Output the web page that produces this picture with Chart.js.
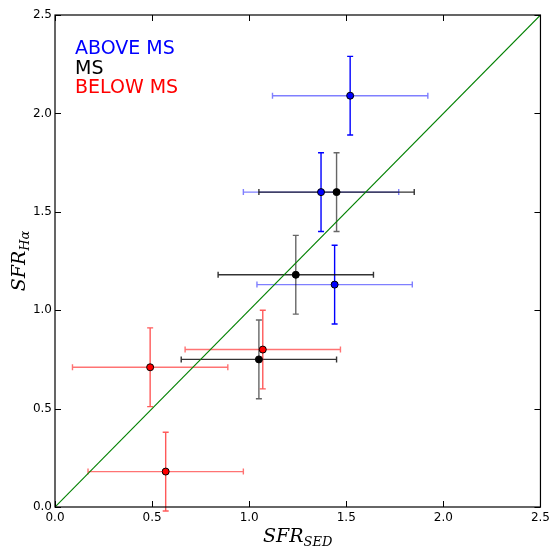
<!DOCTYPE html>
<html>
<head>
<meta charset="utf-8">
<script src="https://cdn.jsdelivr.net/npm/chart.js@4.4.0/dist/chart.umd.min.js"></script>
<style>
  html, body { margin: 0; padding: 0; background: #fff; }
  #wrap { width: 554px; height: 553px; }
</style>
</head>
<body>
<div id="wrap"><canvas id="c" width="554" height="553"></canvas></div>
<script>
// SFR from SED fitting vs SFR from H-alpha, split by position relative to the main sequence
const aboveX = [1.52, 1.37, 1.44];
const aboveY = [2.09, 1.60, 1.13];
const msX = [1.45, 1.24, 1.05];
const msY = [1.60, 1.18, 0.75];
const belowX = [1.07, 0.49, 0.57];
const belowY = [0.80, 0.71, 0.18];
const xErr = 0.4;
const yErr = 0.2;
const tickValues = [0.0, 0.5, 1.0, 1.5, 2.0, 2.5];
const oneToOne = [0.0, 2.5];

function pts(xs, ys) { return xs.map((x, i) => ({ x: x, y: ys[i] })); }

const groups = [
  { label: 'ABOVE MS', data: pts(aboveX, aboveY), color: '0,0,255', xa: 0.5, ya: 1.0 },
  { label: 'MS', data: pts(msX, msY), color: '0,0,0', xa: 0.8, ya: 0.6 },
  { label: 'BELOW MS', data: pts(belowX, belowY), color: '255,0,0', xa: 0.55, ya: 0.65 }
];

// error bars with caps, drawn beneath the markers
const errorBars = {
  id: 'errorBars',
  beforeDatasetsDraw(chart) {
    const ctx = chart.ctx, xs = chart.scales.x, ys = chart.scales.y;
    ctx.save();
    ctx.lineWidth = 1.4;
    const cap = 3;
    groups.forEach(g => {
      g.data.forEach(p => {
        const cx = xs.getPixelForValue(p.x), cy = ys.getPixelForValue(p.y);
        const x0 = xs.getPixelForValue(p.x - xErr), x1 = xs.getPixelForValue(p.x + xErr);
        const y0 = ys.getPixelForValue(p.y - yErr), y1 = ys.getPixelForValue(p.y + yErr);
        ctx.strokeStyle = 'rgba(' + g.color + ',' + g.xa + ')';
        ctx.beginPath();
        ctx.moveTo(x0, cy); ctx.lineTo(x1, cy);
        ctx.moveTo(x0, cy - cap); ctx.lineTo(x0, cy + cap);
        ctx.moveTo(x1, cy - cap); ctx.lineTo(x1, cy + cap);
        ctx.stroke();
        ctx.strokeStyle = 'rgba(' + g.color + ',' + g.ya + ')';
        ctx.beginPath();
        ctx.moveTo(cx, y0); ctx.lineTo(cx, y1);
        ctx.moveTo(cx - cap, y0); ctx.lineTo(cx + cap, y0);
        ctx.moveTo(cx - cap, y1); ctx.lineTo(cx + cap, y1);
        ctx.stroke();
      });
    });
    ctx.restore();
  }
};

// frame, inward ticks on all four sides, axis titles and the group labels
const decorations = {
  id: 'decorations',
  afterDraw(chart) {
    const ctx = chart.ctx, a = chart.chartArea, xs = chart.scales.x, ys = chart.scales.y;
    ctx.save();
    ctx.strokeStyle = '#000';
    ctx.lineWidth = 1.2;
    ctx.strokeRect(a.left, a.top, a.right - a.left, a.bottom - a.top);
    ctx.beginPath();
    const tl = 6;
    tickValues.forEach(v => {
      const px = Math.round(xs.getPixelForValue(v)) + 0.5;
      ctx.moveTo(px, a.bottom); ctx.lineTo(px, a.bottom - tl);
      ctx.moveTo(px, a.top); ctx.lineTo(px, a.top + tl);
      const py = Math.round(ys.getPixelForValue(v)) + 0.5;
      ctx.moveTo(a.left, py); ctx.lineTo(a.left + tl, py);
      ctx.moveTo(a.right, py); ctx.lineTo(a.right - tl, py);
    });
    ctx.lineWidth = 1;
    ctx.stroke();

    // axis titles: SFR with subscripts
    function sub(main, subTxt, cx, cy) {
      ctx.font = 'italic 19px "DejaVu Serif"';
      const w1 = ctx.measureText(main).width;
      ctx.font = 'italic 13px "DejaVu Serif"';
      const w2 = ctx.measureText(subTxt).width;
      const start = cx - (w1 + w2) / 2;
      ctx.fillStyle = '#000';
      ctx.textBaseline = 'alphabetic';
      ctx.textAlign = 'left';
      ctx.font = 'italic 19px "DejaVu Serif"';
      ctx.fillText(main, start, cy);
      ctx.font = 'italic 13px "DejaVu Serif"';
      ctx.fillText(subTxt, start + w1, cy + 4);
    }
    sub('SFR', 'SED', (a.left + a.right) / 2, 542);
    ctx.save();
    ctx.translate(25, (a.top + a.bottom) / 2);
    ctx.rotate(-Math.PI / 2);
    sub('SFR', 'Hα', 0, 0);
    ctx.restore();

    ctx.font = '19px "DejaVu Sans"';
    ctx.textAlign = 'left';
    ctx.textBaseline = 'alphabetic';
    const cols = ['#0000ff', '#000000', '#ff0000'];
    groups.forEach((g, i) => {
      ctx.fillStyle = cols[i];
      ctx.fillText(g.label, 75, 54 + i * 19.5);
    });
    ctx.restore();
  }
};

new Chart(document.getElementById('c'), {
  type: 'scatter',
  data: {
    datasets: [
      {
        type: 'line',
        label: '1:1',
        data: oneToOne.map(v => ({ x: v, y: v })),
        borderColor: '#008000',
        borderWidth: 1.1,
        pointRadius: 0,
        fill: false,
        order: 5
      }
    ].concat(groups.map(g => ({
      label: g.label,
      data: g.data,
      backgroundColor: 'rgb(' + g.color + ')',
      borderColor: '#000',
      borderWidth: 1,
      pointRadius: 3.5,
      order: 1
    })))
  },
  options: {
    responsive: false,
    animation: false,
    layout: { padding: { left: 0, right: 11, top: 15, bottom: 0 } },
    plugins: { legend: { display: false }, tooltip: { enabled: false } },
    scales: {
      x: {
        type: 'linear', min: 0, max: 2.5,
        afterFit(s) { s.height = 46; },
        afterBuildTicks(s) { s.ticks = tickValues.map(v => ({ value: v })); },
        grid: { display: false, drawTicks: false },
        border: { display: false },
        ticks: { padding: 4, color: '#000', font: { family: 'DejaVu Sans', size: 12 }, callback: v => v.toFixed(1), maxRotation: 0 }
      },
      y: {
        type: 'linear', min: 0, max: 2.5,
        afterFit(s) { s.width = 55; },
        afterBuildTicks(s) { s.ticks = tickValues.map(v => ({ value: v })); },
        grid: { display: false, drawTicks: false },
        border: { display: false },
        ticks: { padding: 3, color: '#000', font: { family: 'DejaVu Sans', size: 12 }, callback: v => v.toFixed(1) }
      }
    }
  },
  plugins: [errorBars, decorations]
});
</script>
</body>
</html>
